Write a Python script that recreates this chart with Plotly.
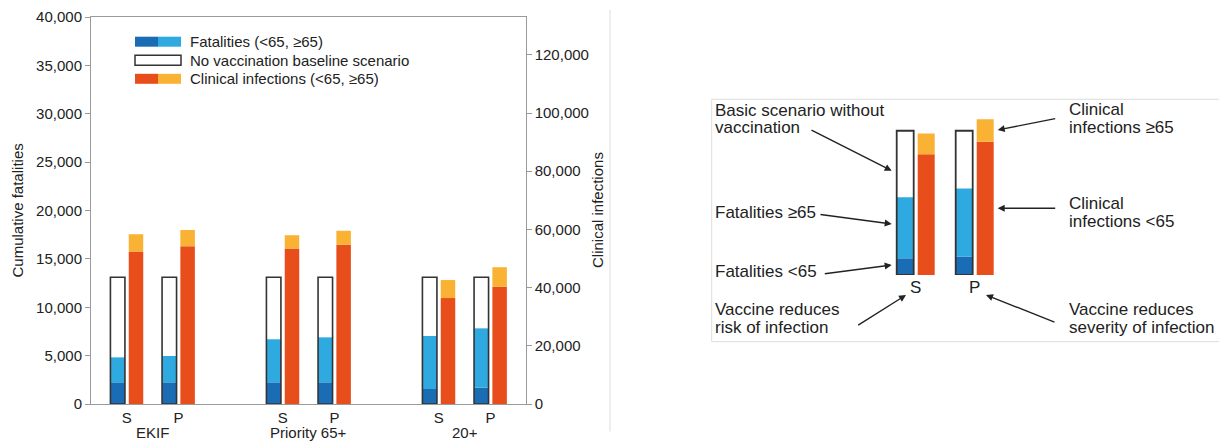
import plotly.graph_objects as go

# ---------------- data ----------------
groups = ["EKIF", "Priority 65+", "20+"]
strategies = ["S", "P"]
baseline_fatalities = [13100, 13100, 13100, 13100, 13100, 13100]
fatal_lt65 = [2240, 2240, 2240, 2240, 1550, 1690]
fatal_ge65 = [2580, 2720, 4450, 4650, 5480, 6130]
infect_lt65 = [52400, 54200, 53400, 54700, 36400, 40300]
infect_ge65 = [5900, 5600, 4600, 4800, 6200, 6700]
left_ticks = [0, 5000, 10000, 15000, 20000, 25000, 30000, 35000, 40000]
right_ticks = [0, 20000, 40000, 60000, 80000, 100000, 120000]

# schematic (illustrative) values for the explanatory diagram
diag_strategies = ["S", "P"]
diag_baseline = [82.1, 82.1]
diag_fatal_lt65 = [9.5, 10.4]
diag_fatal_ge65 = [34.7, 38.9]
diag_inf_lt65 = [68.7, 75.9]
diag_inf_ge65 = [11.9, 12.7]

# ---------------- styling ----------------
W, H = 1219, 441
DARK_BLUE = "#1a6db4"
LIGHT_BLUE = "#2eaae1"
ORANGE = "#e84e1b"
YELLOW = "#f9b234"
OUTLINE = "#333333"
AXIS = "#9a9a9a"
TXT = "#222222"
FONT = "Liberation Sans, Arial, Helvetica, sans-serif"


def px(x):
    return x / W


def py(y):
    return 1 - y / H


fig = go.Figure()

# positions on the left chart (group index units)
pair_off = 0.1655
bar_off = 0.0587
bw = 0.093
pair_x, white_x, inf_x = [], [], []
for gi, _ in enumerate(groups):
    for si, _ in enumerate(strategies):
        c = gi + (-pair_off if si == 0 else pair_off)
        pair_x.append(c)
        white_x.append(c - bar_off)
        inf_x.append(c + bar_off)
tick_text = [s for _ in groups for s in strategies]

fig.add_trace(go.Bar(x=white_x, y=baseline_fatalities, width=bw, marker=dict(color="white", line=dict(width=0)),
                     xaxis="x", yaxis="y", hoverinfo="skip"))
fig.add_trace(go.Bar(x=white_x, y=fatal_lt65, width=bw, marker=dict(color=DARK_BLUE, line=dict(width=0)),
                     xaxis="x", yaxis="y", name="Fatalities <65"))
fig.add_trace(go.Bar(x=white_x, y=fatal_ge65, base=fatal_lt65, width=bw,
                     marker=dict(color=LIGHT_BLUE, line=dict(width=0)), xaxis="x", yaxis="y", name="Fatalities ≥65"))
fig.add_trace(go.Bar(x=white_x, y=baseline_fatalities, width=bw,
                     marker=dict(color="rgba(0,0,0,0)", line=dict(width=1.6, color=OUTLINE)),
                     xaxis="x", yaxis="y", name="No vaccination baseline"))
fig.add_trace(go.Bar(x=inf_x, y=infect_lt65, width=bw, marker=dict(color=ORANGE, line=dict(width=0)),
                     xaxis="x", yaxis="y2", name="Clinical infections <65"))
fig.add_trace(go.Bar(x=inf_x, y=infect_ge65, base=infect_lt65, width=bw,
                     marker=dict(color=YELLOW, line=dict(width=0)), xaxis="x", yaxis="y2",
                     name="Clinical infections ≥65"))

# ---------------- diagram ----------------
d_off = 0.178
d_bw = 0.288
d_white_x = [i - d_off for i in range(len(diag_strategies))]
d_inf_x = [i + d_off for i in range(len(diag_strategies))]
fig.add_trace(go.Bar(x=d_white_x, y=diag_baseline, width=d_bw, marker=dict(color="white", line=dict(width=0)),
                     xaxis="x3", yaxis="y3", hoverinfo="skip"))
fig.add_trace(go.Bar(x=d_white_x, y=diag_fatal_lt65, width=d_bw, marker=dict(color=DARK_BLUE, line=dict(width=0)),
                     xaxis="x3", yaxis="y3"))
fig.add_trace(go.Bar(x=d_white_x, y=diag_fatal_ge65, base=diag_fatal_lt65, width=d_bw,
                     marker=dict(color=LIGHT_BLUE, line=dict(width=0)), xaxis="x3", yaxis="y3"))
fig.add_trace(go.Bar(x=d_white_x, y=diag_baseline, width=d_bw,
                     marker=dict(color="rgba(0,0,0,0)", line=dict(width=1.8, color=OUTLINE)),
                     xaxis="x3", yaxis="y3"))
fig.add_trace(go.Bar(x=d_inf_x, y=diag_inf_lt65, width=d_bw, marker=dict(color=ORANGE, line=dict(width=0)),
                     xaxis="x3", yaxis="y3"))
fig.add_trace(go.Bar(x=d_inf_x, y=diag_inf_ge65, base=diag_inf_lt65, width=d_bw,
                     marker=dict(color=YELLOW, line=dict(width=0)), xaxis="x3", yaxis="y3"))

# ---------------- axes ----------------
x0_px, x1_px = 91, 525.7
ytop_px, ybot_px = 17, 404
grp_center_px = 152.65
unit_px = 156.0
fig.update_layout(
    width=W, height=H, margin=dict(l=0, r=0, t=0, b=0, autoexpand=False),
    paper_bgcolor="white", plot_bgcolor="white",
    barmode="overlay", showlegend=False,
    font=dict(family=FONT, size=15, color=TXT),
    xaxis=dict(domain=[px(x0_px), px(x1_px)],
               range=[(x0_px - grp_center_px) / unit_px, (x1_px - grp_center_px) / unit_px],
               tickvals=pair_x, ticktext=tick_text, ticks="", showline=True, linecolor=AXIS, linewidth=1,
               mirror=True, showgrid=False, zeroline=False, anchor="y", automargin=False,
               tickfont=dict(size=15, color=TXT)),
    yaxis=dict(domain=[py(ybot_px), py(ytop_px)], range=[0, 40000], tickvals=left_ticks, tickformat=",",
               ticks="outside", ticklen=5, tickcolor=AXIS, showline=True, linecolor=AXIS, linewidth=1,
               showgrid=False, zeroline=False, anchor="x", automargin=False, tickfont=dict(size=15, color=TXT)),
    yaxis2=dict(overlaying="y", side="right", range=[0, 133000], tickvals=right_ticks, tickformat=",",
                ticks="outside", ticklen=5, tickcolor=AXIS, showline=True, linecolor=AXIS, linewidth=1,
                showgrid=False, zeroline=False, anchor="x", automargin=False, tickfont=dict(size=15, color=TXT)),
    xaxis3=dict(domain=[px(880), px(1010)], range=[(880 - 915.7) / 59, (1010 - 915.7) / 59],
                tickvals=[0, 1], ticktext=diag_strategies, ticks="", showline=False, showgrid=False,
                zeroline=False, anchor="y3", automargin=False, tickfont=dict(size=17, color=TXT)),
    yaxis3=dict(domain=[py(275), py(99.3)], range=[0, 100], visible=False, anchor="x3", automargin=False),
)

shapes = []
annotations = []

# axis titles
annotations.append(dict(x=px(17), y=py(210.5), xref="paper", yref="paper", text="Cumulative fatalities",
                        textangle=-90, showarrow=False, xanchor="center", yanchor="middle",
                        font=dict(size=15, color=TXT)))
annotations.append(dict(x=px(597.5), y=py(210.5), xref="paper", yref="paper", text="Clinical infections",
                        textangle=-90, showarrow=False, xanchor="center", yanchor="middle",
                        font=dict(size=15, color=TXT)))
# group labels
for gi, g in enumerate(groups):
    annotations.append(dict(x=gi, y=py(432.5), xref="x", yref="paper", text=g, showarrow=False,
                            xanchor="center", yanchor="middle", font=dict(size=15, color=TXT)))

# legend (manual, two-tone swatches)
leg_rows = [41.7, 60.2, 78.8]
leg_x0, leg_xm, leg_x1 = 135, 158, 181
sh = 5
shapes += [
    dict(type="rect", xref="paper", yref="paper", x0=px(leg_x0), x1=px(leg_xm), y0=py(leg_rows[0] + sh),
         y1=py(leg_rows[0] - sh), fillcolor=DARK_BLUE, line=dict(width=0)),
    dict(type="rect", xref="paper", yref="paper", x0=px(leg_xm), x1=px(leg_x1), y0=py(leg_rows[0] + sh),
         y1=py(leg_rows[0] - sh), fillcolor=LIGHT_BLUE, line=dict(width=0)),
    dict(type="rect", xref="paper", yref="paper", x0=px(leg_x0), x1=px(leg_x1), y0=py(leg_rows[1] + sh),
         y1=py(leg_rows[1] - sh), fillcolor="white", line=dict(width=1.5, color=OUTLINE)),
    dict(type="rect", xref="paper", yref="paper", x0=px(leg_x0), x1=px(leg_xm), y0=py(leg_rows[2] + sh),
         y1=py(leg_rows[2] - sh), fillcolor=ORANGE, line=dict(width=0)),
    dict(type="rect", xref="paper", yref="paper", x0=px(leg_xm), x1=px(leg_x1), y0=py(leg_rows[2] + sh),
         y1=py(leg_rows[2] - sh), fillcolor=YELLOW, line=dict(width=0)),
]
leg_labels = ["Fatalities (<65, ≥65)", "No vaccination baseline scenario", "Clinical infections (<65, ≥65)"]
for ry, lab in zip(leg_rows, leg_labels):
    annotations.append(dict(x=px(188), y=py(ry), xref="paper", yref="paper", text=lab, showarrow=False,
                            xanchor="left", yanchor="middle", font=dict(size=15, color=TXT)))

# separator line and diagram frame
shapes.append(dict(type="line", xref="paper", yref="paper", x0=px(610), x1=px(610), y0=py(10), y1=py(431.5),
                   line=dict(color="#dddddd", width=1)))
shapes.append(dict(type="rect", xref="paper", yref="paper", x0=px(711.7), x1=px(1230), y0=py(341.7), y1=py(99.3),
                   line=dict(color="#dddddd", width=1), fillcolor="rgba(0,0,0,0)", layer="below"))

# diagram texts
diag_texts = [
    ("Basic scenario without", 713, 110.0), ("vaccination", 713, 127.3),
    ("Fatalities ≥65", 713, 212.7),
    ("Fatalities <65", 713, 271.0),
    ("Vaccine reduces", 713, 309.3), ("risk of infection", 713, 327.3),
    ("Clinical", 1066.7, 109.3), ("infections ≥65", 1066.7, 127.3),
    ("Clinical", 1066.7, 203.3), ("infections <65", 1066.7, 221.7),
    ("Vaccine reduces", 1066.7, 309.3), ("severity of infection", 1066.7, 327.3),
]
for t, x, y in diag_texts:
    annotations.append(dict(x=px(x), y=py(y), xref="paper", yref="paper", text=t, showarrow=False,
                            xanchor="left", yanchor="middle", font=dict(size=17, color=TXT)))

# diagram arrows: (tail_x, tail_y, head_x, head_y) in pixels
arrows = [
    (810, 129.3, 891.7, 170.7),
    (819, 214.3, 891.7, 224.0),
    (823.3, 274.0, 891.7, 265.0),
    (856.7, 326.0, 906.0, 295.0),
    (1056.7, 118.3, 997.7, 130.0),
    (1056.7, 208.3, 997.7, 208.3),
    (1056.0, 322.7, 986.0, 295.0),
]
for tx, ty, hx, hy in arrows:
    annotations.append(dict(x=px(hx), y=py(hy), xref="paper", yref="paper", text="", showarrow=True,
                            ax=tx - hx, ay=ty - hy, axref="pixel", ayref="pixel",
                            arrowhead=2, arrowsize=1, arrowwidth=1.4, arrowcolor=TXT, standoff=0))

fig.update_layout(shapes=shapes, annotations=annotations)

fig.write_html("out.html", config={"displayModeBar": False},
               post_script="document.body.style.margin='0px';")
